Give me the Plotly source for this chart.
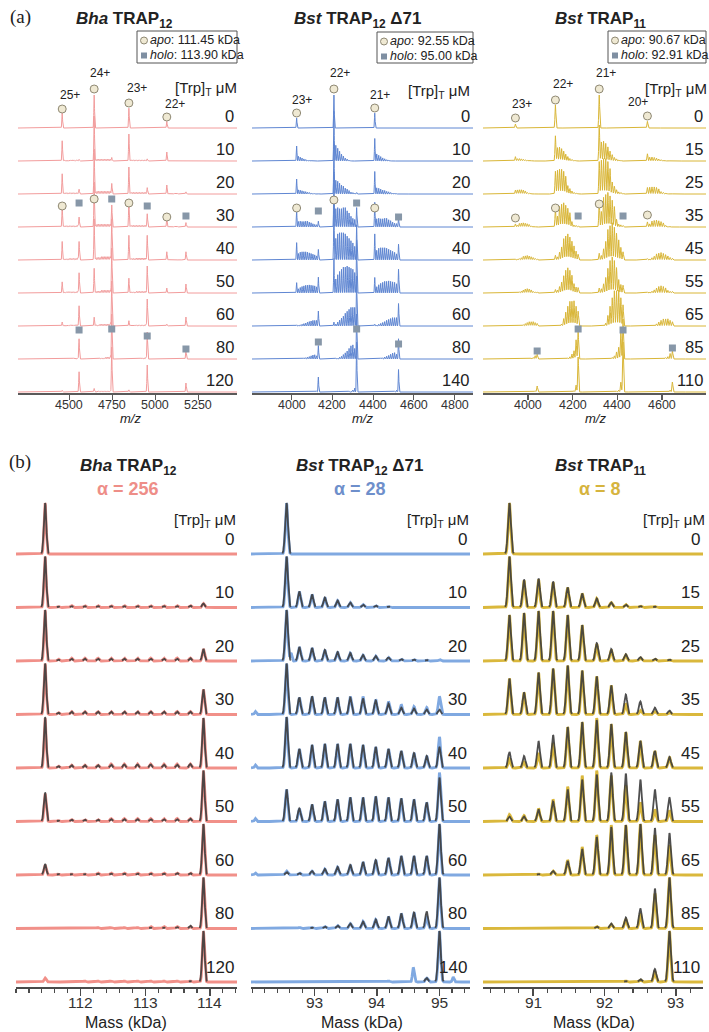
import numpy as np
import plotly.graph_objects as go

W, H = 709, 1032
FONT = "Arial, Liberation Sans, Helvetica, sans-serif"
SERIF = "Liberation Serif, Times New Roman, serif"

# ----------------------------- DATA -----------------------------
# species masses (kDa), 0..n Trp bound
bha_mass = [111.45, 111.654, 111.858, 112.063, 112.267, 112.471, 112.675,
            112.879, 113.083, 113.288, 113.492, 113.696, 113.90]
b12_mass = [92.55, 92.754, 92.958, 93.163, 93.367, 93.571, 93.775,
            93.979, 94.183, 94.388, 94.592, 94.796, 95.00]
b11_mass = [90.67, 90.874, 91.077, 91.281, 91.485, 91.688, 91.892,
            92.095, 92.299, 92.503, 92.706, 92.91]

bha_trp = ["0", "10", "20", "30", "40", "50", "60", "80", "120"]
b12_trp = ["0", "10", "20", "30", "40", "50", "60", "80", "140"]
b11_trp = ["0", "15", "25", "35", "45", "55", "65", "85", "110"]

titles = ["<b><i>Bha</i> TRAP<sub>12</sub></b>",
          "<b><i>Bst</i> TRAP<sub>12</sub> \u039471</b>",
          "<b><i>Bst</i> TRAP<sub>11</sub></b>"]
alphas = ["\u03b1 = 256", "\u03b1 = 28", "\u03b1 = 8"]
apo_lbl = ["111.45", "92.55", "90.67"]
holo_lbl = ["113.90", "95.00", "92.91"]

# deconvoluted peak heights (panel b, experimental / fit), per row
bha_exp = [
    [51, 0, 0, 0, 0, 0, 0, 0, 0, 0, 0, 0, 0],
    [51, 1, 2, 2, 2, 2, 2, 2, 2, 2, 2, 2, 4],
    [51, 2, 3, 3, 3, 3, 3, 3, 3, 3, 3, 3, 12],
    [51, 2, 3, 3, 3, 3, 3, 3, 3, 3, 3, 3, 25],
    [50, 2, 3, 3, 3, 4, 4, 4, 4, 4, 4, 4, 50],
    [28, 1, 2, 2, 2, 3, 3, 3, 3, 3, 3, 3, 51],
    [10, 1, 1, 1, 2, 2, 2, 2, 2, 2, 2, 2, 51],
    [0, 0, 0, 0, 1, 1, 1, 1, 2, 2, 2, 2, 51],
    [4, 0, 0, 1, 1, 1, 1, 1, 1, 1, 1, 1, 51],
]
bha_fit = [
    [51, 0, 0, 0, 0, 0, 0, 0, 0, 0, 0, 0, 0],
    [51, 1, 1.5, 1.5, 1.5, 1.5, 1.5, 1.5, 1.5, 1.5, 1.5, 2, 4],
    [51, 1.5, 2.5, 2.5, 2.5, 2.5, 2.5, 2.5, 2.5, 2.5, 2.5, 3, 12],
    [51, 2, 3, 3, 3, 3, 3, 3, 3, 3, 3, 3, 25],
    [51, 2, 3, 3, 3, 3.5, 3.5, 3.5, 3.5, 3.5, 3.5, 4, 50],
    [29, 1, 2, 2, 2, 2.5, 2.5, 2.5, 2.5, 2.5, 2.5, 3, 51],
    [11, 1, 1, 1, 1.5, 1.5, 1.5, 1.5, 1.5, 1.5, 2, 2, 51],
    [0, 0, 0, 0, 0.5, 0.5, 0.5, 0.5, 1, 1, 1.5, 3, 51],
    [0, 0, 0, 0, 0.5, 0.5, 0.5, 0.5, 0.5, 0.5, 0.5, 1, 51],
]
b12_exp = [
    [51, 0, 0, 0, 0, 0, 0, 0, 0, 0, 0, 0, 0],
    [51, 16, 13, 10, 7, 5, 3, 2, 1, 0.5, 0, 0, 0],
    [51, 14, 13, 11, 9, 8, 6, 5, 3.5, 2, 1.5, 1, 1.5],
    [51, 17, 18, 17, 17, 18, 18, 15, 13, 10, 8, 7, 18],
    [51, 19, 23, 24, 24, 24, 23, 21, 19, 17, 15, 12, 31],
    [32, 13, 17, 20, 22, 24, 24, 25, 24, 23, 22, 19, 49],
    [4, 2, 4, 6, 8, 10, 13, 15, 17, 19, 19, 19, 51],
    [0, 1, 1, 2, 3, 5, 7, 9, 12, 15, 16, 12, 51],
    [0, 0, 0, 0, 0, 0, 0, 0, 1, 0, 2, 4, 51],
]
b12_fit = [
    [51, 0, 0, 0, 0, 0, 0, 0, 0, 0, 0, 0, 0],
    [51, 16, 13, 10, 7, 5, 3, 2, 1, 0.5, 0, 0, 0],
    [51, 14, 13, 11, 9, 8, 6, 5, 3.5, 2, 1.5, 1, 0.5],
    [51, 17, 18, 17, 17, 17, 16, 14, 11, 7, 6, 5, 5],
    [51, 19, 23, 24, 24, 24, 23, 21, 19, 17, 15, 12, 21],
    [32, 13, 17, 20, 22, 24, 24, 25, 24, 23, 22, 19, 44],
    [3, 2, 4, 6, 8, 10, 13, 15, 17, 19, 19, 19, 51],
    [0, 0.5, 1, 2, 3, 5, 7, 9, 12, 15, 16, 17, 51],
    [0, 0, 0, 0, 0, 0, 0, 0, 0, 0, 0.5, 4, 51],
]
# extra experimental spikes (row, mass kDa, height)
b12_extra = [(2, 92.62, 8), (3, 92.05, 3), (4, 92.05, 3), (5, 92.05, 3),
             (6, 92.05, 2), (8, 94.58, 13), (8, 95.22, 5)]
b11_exp = [
    [51, 0, 0, 0, 0, 0, 0, 0, 0, 0, 0, 0],
    [51, 27, 28, 25, 20, 14, 9, 5, 3, 1.5, 1, 0],
    [46, 48, 50, 50, 46, 36, 17, 11, 6, 3, 2, 1],
    [36, 22, 42, 46, 49, 44, 38, 29, 11, 4, 3, 2],
    [9, 6, 15, 25, 41, 46, 50, 44, 36, 27, 17, 11],
    [7, 6, 13, 22, 35, 46, 51, 46, 36, 19, 12, 11],
    [0, 0, 1, 4, 15, 28, 40, 50, 50, 51, 40, 30],
    [0, 0, 0, 0, 0, 0, 2, 4, 9, 15, 35, 51],
    [0, 0, 0, 0, 0, 0, 0, 0, 1, 2, 10, 51],
]
b11_fit = [
    [51, 0, 0, 0, 0, 0, 0, 0, 0, 0, 0, 0],
    [51, 28, 29, 26, 20, 14, 9, 5, 3, 1.5, 1, 0],
    [46, 48, 50, 50, 46, 36, 18, 12, 7, 4, 2.5, 1.5],
    [36, 22, 42, 46, 49, 44, 38, 29, 20, 13, 7, 4],
    [16, 12, 27, 33, 41, 46, 48, 44, 36, 27, 17, 11],
    [5, 5, 12, 20, 32, 42, 47, 49, 48, 42, 32, 24],
    [0, 0, 1, 4, 14, 26, 38, 48, 50, 51, 47, 42],
    [0, 0, 0, 0, 0, 0, 2, 5, 11, 20, 40, 51],
    [0, 0, 0, 0, 0, 0, 0, 0, 1, 3, 13, 51],
]

# native MS (panel a): charge states, relative charge intensity, row scale (px)
bha_z = [25, 24, 23, 22]
bha_zw = [0.45, 1.0, 0.6, 0.2]
b12_z = [23, 22, 21]
b12_zw = [0.3, 1.0, 0.45]
b11_z = [23, 22, 21, 20]
b11_zw = [0.12, 0.7, 1.0, 0.2]
bha_ascale = [33, 45, 45, 45, 42, 45, 45, 45, 45]
b12_ascale = [33, 50, 50, 55, 58, 55, 50, 45, 50]
b11_ascale = [33, 36, 36, 36, 38, 36, 36, 40, 50]

# annotation markers in panel a: (row, charges, heights above baseline px)
bha_circ = [(0, [25, 24, 23, 22], [19, 39, 25, 11]), (3, [25, 24, 23, 22], [21, 28, 24, 10])]
bha_sq = [(3, [25, 24, 23, 22], [24, 28, 21, 11]), (7, [25, 24, 23, 22], [29, 30, 23, 10])]
b12_circ = [(0, [23, 22, 21], [15, 39, 20]), (3, [23, 22, 21], [19, 27, 19])]
b12_sq = [(3, [23, 22, 21], [16, 24, 10]), (7, [23, 22, 21], [17, 30, 15])]
b11_circ = [(0, [23, 22, 21, 20], [10, 28, 39, 12]), (3, [23, 22, 21, 20], [9, 19, 23, 12])]
b11_sq = [(3, [22, 21], [11, 11]), (7, [23, 22, 21, 20], [8, 30, 29, 11])]

# charge labels for row 0 (text, pixel position)
bha_zlab = [("25+", 70, 95), ("24+", 100, 73), ("23+", 137, 88), ("22+", 175, 104)]
b12_zlab = [("23+", 302, 100), ("22+", 340, 73), ("21+", 380, 95)]
b11_zlab = [("23+", 522, 104), ("22+", 563, 84), ("21+", 606, 73), ("20+", 638, 102)]

# ----------------------------- STYLE / LAYOUT -----------------------------
a_line = ["#F29C9C", "#5F86D2", "#D9B637"]
b_line = ["#F19089", "#80A9E1", "#DAB83C"]
alpha_col = ["#EE8E88", "#6E8FCB", "#D6B43E"]
fit_col = "#3D3D3D"

a_dom = [(18, 237), (252, 473), (483, 706)]
a_rng = [(4202, 5475), (3806, 4890), (3798, 4797)]
a_ticks = [[4500, 4750, 5000, 5250], [4000, 4200, 4400, 4600, 4800], [4000, 4200, 4400, 4600]]
b_dom = [(16, 237), (251, 470), (483, 703)]
b_rng = [(111.0, 114.42), (91.98, 95.49), (90.30, 93.38)]
b_ticks = [[112, 113, 114], [93, 94, 95], [91, 92, 93]]

A_TOP, A_BOT = 40, 393
B_TOP, B_BOT = 488, 987
A_ROW0, A_STEP = 128, 33
B_ROW0, B_STEP = 554, 53.5

masses = [bha_mass, b12_mass, b11_mass]
trps = [bha_trp, b12_trp, b11_trp]
exps = [bha_exp, b12_exp, b11_exp]
fits = [bha_fit, b12_fit, b11_fit]
extras = [[], b12_extra, []]
zs = [bha_z, b12_z, b11_z]
zws = [bha_zw, b12_zw, b11_zw]
ascales = [bha_ascale, b12_ascale, b11_ascale]
circs = [bha_circ, b12_circ, b11_circ]
sqs = [bha_sq, b12_sq, b11_sq]
zlabs = [bha_zlab, b12_zlab, b11_zlab]


def profile(x, centers, heights, sigma):
    y = np.zeros_like(x)
    for c, h in zip(centers, heights):
        if h > 0:
            y += h * np.exp(-0.5 * ((x - c) / sigma) ** 2)
    return y


def mz(m_kda, z):
    return (m_kda * 1000.0 + z * 1.008) / z


def ref(i, t):
    return t if i == 1 else f"{t}{i}"


def axn(i, t):
    return f"{t}axis" if i == 1 else f"{t}axis{i}"


fig = go.Figure()
layout = dict(width=W, height=H, margin=dict(l=0, r=0, t=0, b=0), autosize=False,
              paper_bgcolor="white", plot_bgcolor="white", showlegend=False)
ann = []
shapes = []


def text(px, py, s, size, color="#222222", xanchor="center", family=FONT, xref="paper", xval=None):
    ann.append(dict(x=(px / W if xval is None else xval), y=1 - py / H, xref=xref, yref="paper",
                    text=s, showarrow=False, font=dict(size=size, color=color, family=family),
                    xanchor=xanchor, yanchor="middle", borderpad=0))


a_sig = [2.0, 1.5, 2.0]
b_sig_exp = [0.016, 0.019, 0.017]
b_sig_fit = [0.019, 0.022, 0.020]

for ci in range(3):
    # ---------- panel (a) ----------
    ia = ci + 1
    xr = a_rng[ci]
    x = np.linspace(xr[0], xr[1], 4500)
    for r in range(9):
        base = (A_BOT - A_ROW0) - A_STEP * r
        cen, hts = [], []
        for k, m in enumerate(masses[ci]):
            for z, w in zip(zs[ci], zws[ci]):
                cen.append(mz(m, z))
                hts.append(exps[ci][r][k] / 51.0 * w * ascales[ci][r])
        y = base + profile(x, cen, hts, a_sig[ci])
        fig.add_trace(go.Scatter(x=x, y=y, mode="lines", xaxis=ref(ia, "x"), yaxis=ref(ia, "y"),
                                 line=dict(color=a_line[ci], width=1), hoverinfo="skip"))
        text(a_dom[ci][1] - 2, A_ROW0 + A_STEP * r - 12, trps[ci][r], 16.5, xanchor="right")
    # markers
    for (r, charges, hh) in circs[ci]:
        base = (A_BOT - A_ROW0) - A_STEP * r
        fig.add_trace(go.Scatter(x=[mz(masses[ci][0], z) for z in charges],
                                 y=[base + h for h in hh], mode="markers",
                                 xaxis=ref(ia, "x"), yaxis=ref(ia, "y"), hoverinfo="skip",
                                 marker=dict(symbol="circle", size=8, color="#EFE9D3",
                                             line=dict(color="#8E8873", width=1))))
    for (r, charges, hh) in sqs[ci]:
        base = (A_BOT - A_ROW0) - A_STEP * r
        fig.add_trace(go.Scatter(x=[mz(masses[ci][-1], z) for z in charges],
                                 y=[base + h for h in hh], mode="markers",
                                 xaxis=ref(ia, "x"), yaxis=ref(ia, "y"), hoverinfo="skip",
                                 marker=dict(symbol="square", size=7, color="#8797A8",
                                             line=dict(width=0))))
    layout[axn(ia, "x")] = dict(domain=[a_dom[ci][0] / W, a_dom[ci][1] / W], range=list(xr),
                                anchor=ref(ia, "y"), showgrid=False, zeroline=False,
                                showline=True, linecolor="#5A5A5A", linewidth=1.5,
                                ticks="outside", ticklen=5, tickwidth=1.2, tickcolor="#5A5A5A",
                                tickmode="array", tickvals=a_ticks[ci], showticklabels=False)
    layout[axn(ia, "y")] = dict(domain=[1 - A_BOT / H, 1 - A_TOP / H], range=[0, A_BOT - A_TOP],
                                anchor=ref(ia, "x"), visible=False, fixedrange=True)
    for v in a_ticks[ci]:
        text(0, 405, str(v), 12.5, color="#333333", xref=ref(ia, "x"), xval=v)

    # ---------- panel (b) ----------
    ib = ci + 4
    xr = b_rng[ci]
    x = np.linspace(xr[0], xr[1], 3000)
    for r in range(9):
        base = (B_BOT - B_ROW0) - B_STEP * r
        ye = profile(x, masses[ci], exps[ci][r], b_sig_exp[ci])
        for (er, em, eh) in extras[ci]:
            if er == r:
                ye += profile(x, [em], [eh], b_sig_exp[ci] * 0.7)
        yf = profile(x, masses[ci], fits[ci][r], b_sig_fit[ci])
        yf_plot = np.where(yf > 0.5, base + yf, np.nan)
        fig.add_trace(go.Scatter(x=x, y=base + ye, mode="lines", xaxis=ref(ib, "x"), yaxis=ref(ib, "y"),
                                 line=dict(color=b_line[ci], width=2.8), hoverinfo="skip"))
        fig.add_trace(go.Scatter(x=x, y=yf_plot, mode="lines", xaxis=ref(ib, "x"), yaxis=ref(ib, "y"),
                                 line=dict(color=fit_col, width=1.8), hoverinfo="skip",
                                 connectgaps=False, opacity=0.9))
        text(b_dom[ci][1] - 2, B_ROW0 + B_STEP * r - 15, trps[ci][r], 17, xanchor="right")
    layout[axn(ib, "x")] = dict(domain=[b_dom[ci][0] / W, b_dom[ci][1] / W], range=list(xr),
                                anchor=ref(ib, "y"), showgrid=False, zeroline=False,
                                showline=True, linecolor="#4A4A4A", linewidth=1.5,
                                ticks="outside", ticklen=7, tickwidth=1.3, tickcolor="#4A4A4A",
                                tickmode="array", tickvals=b_ticks[ci], showticklabels=False,
                                minor=dict(dtick=0.2, tick0=0, ticks="outside", ticklen=4,
                                           tickwidth=1.2, tickcolor="#4A4A4A"))
    layout[axn(ib, "y")] = dict(domain=[1 - B_BOT / H, 1 - B_TOP / H], range=[0, B_BOT - B_TOP],
                                anchor=ref(ib, "x"), visible=False, fixedrange=True)
    for v in b_ticks[ci]:
        text(0, 1002, str(v), 15.5, color="#333333", xref=ref(ib, "x"), xval=v)

# ----------------------------- TEXT -----------------------------
text(20, 17, "(a)", 19, family=SERIF)
text(20, 462, "(b)", 19, family=SERIF)
for ci, cx in enumerate([124, 358, 600]):
    text(cx, 20, titles[ci], 17)
for ci, cx in enumerate([128, 360, 600]):
    text(cx, 467, titles[ci], 17)
    text(cx, 489, "<b>" + alphas[ci] + "</b>", 18, color=alpha_col[ci])
for px, py in [(238, 88), (471, 91), (708, 89)]:
    text(px, py, "[Trp]<sub>T</sub> \u03bcM", 15, xanchor="right")
for px in [237, 470, 706]:
    text(px, 520, "[Trp]<sub>T</sub> \u03bcM", 15, xanchor="right")
for ci in range(3):
    for (s, px, py) in zlabs[ci]:
        text(px, py, s, 12)
for cx in [130, 362, 595]:
    text(cx, 418, "<i>m/z</i>", 13)
for cx in [126, 362, 594]:
    text(cx, 1022, "Mass (kDa)", 16)

# legend boxes
for (x0, y0, x1, y1), ci in zip([(137, 31, 237, 63), (377, 32, 473, 63), (608, 31, 706, 63)], range(3)):
    shapes.append(dict(type="rect", xref="paper", yref="paper", x0=x0 / W, x1=x1 / W,
                       y0=1 - y1 / H, y1=1 - y0 / H, line=dict(color="#555555", width=1),
                       fillcolor="white", layer="below"))
    cx, cy1, cy2 = x0 + 7, y0 + 9.5, y0 + 24.5
    shapes.append(dict(type="circle", xref="paper", yref="paper", x0=(cx - 3.5) / W, x1=(cx + 3.5) / W,
                       y0=1 - (cy1 + 3.5) / H, y1=1 - (cy1 - 3.5) / H,
                       line=dict(color="#8E8873", width=1), fillcolor="#EFE9D3"))
    shapes.append(dict(type="rect", xref="paper", yref="paper", x0=(cx - 3) / W, x1=(cx + 3) / W,
                       y0=1 - (cy2 + 3) / H, y1=1 - (cy2 - 3) / H,
                       line=dict(width=0), fillcolor="#7F8FA2"))
    text(x0 + 12, cy1, "<i>apo</i>: " + apo_lbl[ci] + " kDa", 12.5, xanchor="left")
    text(x0 + 12, cy2, "<i>holo</i>: " + holo_lbl[ci] + " kDa", 12.5, xanchor="left")

layout["annotations"] = ann
layout["shapes"] = shapes
fig.update_layout(**layout)
fig.write_html("out.html", config={"displayModeBar": False, "staticPlot": True},
               post_script="document.body.style.margin='0px';document.body.style.overflow='hidden';")
